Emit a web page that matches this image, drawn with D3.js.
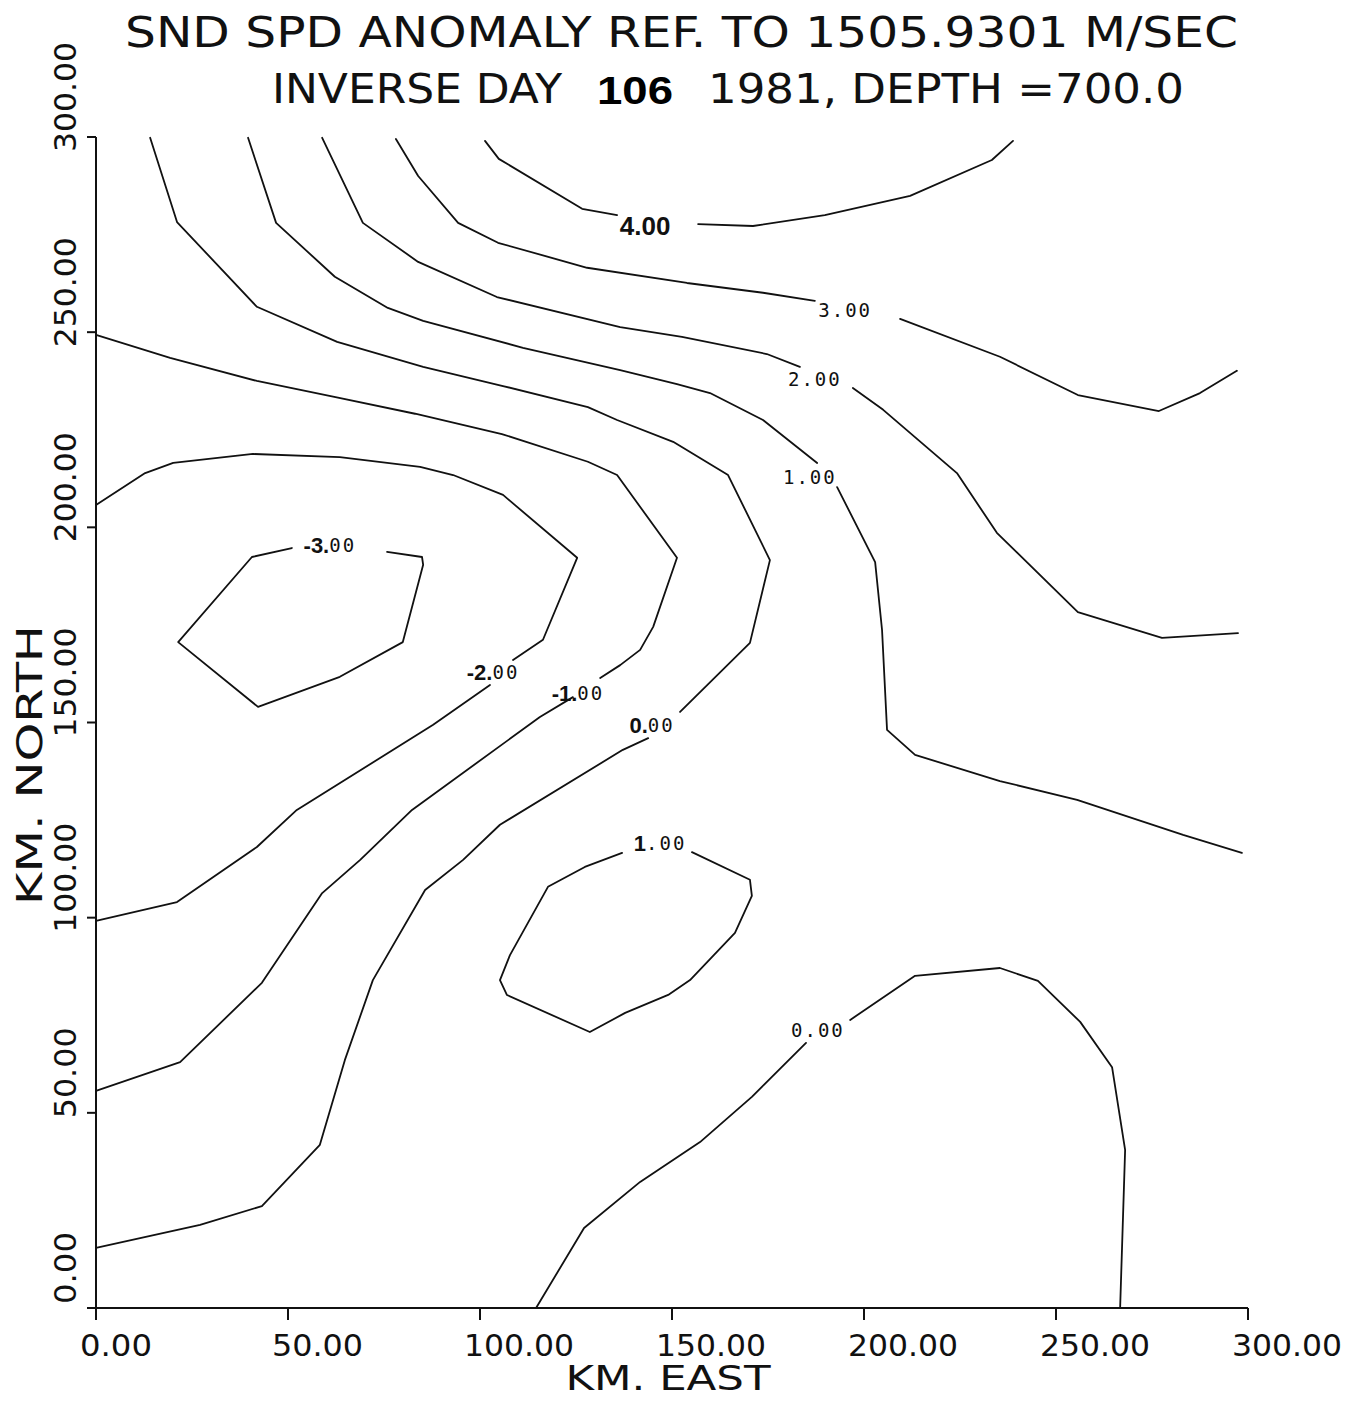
<!DOCTYPE html>
<html>
<head>
<meta charset="utf-8">
<script src="https://cdn.jsdelivr.net/npm/d3@7"></script>
<style>
  html, body { margin: 0; padding: 0; background: #fff; }
  svg { display: block; }
  .plot { font-family: "Liberation Sans Narrow", "DejaVu Sans Condensed", "DejaVu Sans", sans-serif; font-weight: 200; }
</style>
</head>
<body>
<svg id="chart" class="plot" width="1364" height="1401"></svg>
<script>
// ---------- DATA (km east, km north) ----------
const titleLine1 = "SND SPD ANOMALY REF. TO 1505.9301 M/SEC";
const titleLine2a = "INVERSE DAY";
const titleLine2b = "106";
const titleLine2c = "1981, DEPTH =700.0";
const xAxisTitle = "KM. EAST";
const yAxisTitle = "KM. NORTH";

const xTicks = [0, 50, 100, 150, 200, 250, 300];
const xTickLabels = ["0.00", "50.00", "100.00", "150.00", "200.00", "250.00", "300.00"];
const yTicks = [0, 50, 100, 150, 200, 250, 300];
const yTickLabels = ["0.00", "50.00", "100.00", "150.00", "200.00", "250.00", "300.00"];

// contour level 4.00
const c4_a = [[101.3,299.0],[104.9,294.4],[126.6,281.6],[135.7,280.0]];
const c4_b = [[156.8,277.7],[171.1,277.2],[189.8,280.0],[212.0,284.9],[233.3,294.1],[238.8,299.0]];
// contour level 3.00
const c3_a = [[78.1,299.5],[83.9,290.0],[94.3,278.0],[104.7,272.9],[127.9,266.5],[153.9,262.6],[173.7,260.1],[187.2,258.0]];
const c3_b = [[209.4,253.4],[235.4,243.7],[255.7,233.9],[276.8,229.8],[287.5,234.4],[297.1,240.1]];
// contour level 2.00
const c2_a = [[58.9,299.8],[69.5,278.0],[83.9,268.0],[104.4,259.0],[136.5,251.3],[152.6,248.8],[174.7,244.4],[183.3,241.1]];
const c2_b = [[197.1,235.7],[205.0,230.1],[224.2,213.9],[234.6,198.6],[255.7,178.3],[277.6,171.7],[297.4,172.9]];
// contour level 1.00 (upper)
const c1_a = [[39.6,299.8],[46.9,278.0],[62.2,264.2],[76.0,256.2],[85.2,252.9],[111.2,246.0],[136.5,240.3],[151.3,236.7],[159.9,234.4],[173.7,227.5],[187.8,216.5]];
const c1_b = [[193.0,210.3],[202.9,191.1],[204.7,173.7],[206.0,148.1],[213.3,141.7],[235.4,135.0],[255.5,130.2],[283.1,121.2],[298.4,116.6]];
// contour level 0.00 (upper-left)
const c0_a = [[14.1,299.8],[21.1,278.2],[41.9,256.5],[62.8,247.5],[85.2,241.1],[106.0,236.2],[128.1,230.8],[135.7,227.5],[150.3,221.9],[164.6,213.4],[175.5,191.6],[170.3,170.4],[152.1,152.7]];
const c0_b = [[143.8,146.0],[137.2,143.0],[105.2,123.8],[95.6,114.8],[85.7,107.1],[72.1,84.0],[64.8,63.5],[58.3,41.8],[43.2,26.1],[27.1,21.3],[0.0,15.4]];
// contour level -1.00
const cm1_a = [[0.0,249.3],[19.3,243.4],[41.9,237.5],[63.0,233.2],[83.1,229.1],[105.7,223.9],[128.1,216.8],[135.7,213.4],[151.3,192.2],[145.1,174.5],[141.7,168.6],[136.5,164.7],[131.3,161.4]];
const cm1_b = [[124.2,156.5],[115.6,151.4],[82.3,127.6],[68.8,114.8],[58.9,106.3],[43.2,83.3],[21.9,63.0],[0.0,55.6]];
// contour level -2.00
const cm2_a = [[0.0,205.7],[12.8,213.9],[20.1,216.5],[40.9,218.8],[63.5,218.0],[84.4,215.5],[93.0,213.4],[106.0,208.3],[125.3,192.2],[116.4,171.2],[108.6,166.0]];
const cm2_b = [[102.6,159.6],[87.8,149.4],[52.3,127.6],[41.9,118.1],[21.1,104.0],[0.0,99.2]];
// contour level -3.00 (closed, open at label)
const cm3 = [[75.8,193.7],[84.9,192.4],[85.2,190.4],[79.9,170.6],[63.5,161.7],[42.2,154.0],[21.4,170.6],[40.6,192.4],[51.0,194.7]];
// contour level 1.00 (closed loop, open at label)
const c1_loop = [[155.2,116.8],[170.3,109.7],[170.8,105.6],[166.4,96.1],[154.7,84.0],[149.0,80.2],[137.8,75.6],[128.6,70.7],[107.0,80.2],[105.2,84.0],[107.8,90.4],[117.7,107.9],[127.3,113.0],[137.0,116.6]];
// contour level 0.00 (lower-right)
const c0_low_a = [[114.6,0.0],[127.1,20.5],[141.7,32.3],[157.3,42.5],[170.8,54.1],[184.9,67.9]];
const c0_low_b = [[196.4,73.8],[213.3,85.1],[235.4,87.1],[245.3,83.8],[256.3,73.3],[264.6,61.7],[268.0,40.5],[266.7,0.0]];

const contours = [c4_a, c4_b, c3_a, c3_b, c2_a, c2_b, c1_a, c1_b, c0_a, c0_b,
                  cm1_a, cm1_b, cm2_a, cm2_b, cm3, c1_loop, c0_low_a, c0_low_b];

// contour labels
const labelTexts = ["4.00", "3.00", "2.00", "1.00", "-3.00", "-2.00", "-1.00", "0.00", "1.00", "0.00"];
const labelBoldPrefix = ["4.00", "", "", "", "-3.", "-2.", "-1.", "0.", "1", ""];
const labelX = [143.0, 195.1, 187.2, 185.9, 60.9, 103.4, 125.5, 144.8, 146.9, 188.0];
const labelY = [277.2, 255.7, 238.0, 212.9, 195.5, 162.9, 157.6, 149.4, 119.1, 71.2];

// ---------- DRAWING ----------
const svg = d3.select("#chart");
const x = d3.scaleLinear().domain([0, 300]).range([96, 1248]);
const y = d3.scaleLinear().domain([0, 300]).range([1308, 137]);
const ink = "#111";

// Title
svg.append("text")
  .attr("x", 125).attr("y", 47)
  .attr("textLength", 1113).attr("lengthAdjust", "spacingAndGlyphs")
  .attr("font-size", 42).attr("fill", ink)
  .text(titleLine1);
svg.append("text")
  .attr("x", 272).attr("y", 103)
  .attr("textLength", 290).attr("lengthAdjust", "spacingAndGlyphs")
  .attr("font-size", 40).attr("fill", ink)
  .text(titleLine2a);
svg.append("text")
  .attr("x", 597).attr("y", 104)
  .attr("textLength", 76).attr("lengthAdjust", "spacingAndGlyphs")
  .attr("font-size", 38).attr("font-weight", "bold")
  .attr("font-family", "'Liberation Sans', Arial, sans-serif").attr("fill", "#000")
  .text(titleLine2b);
svg.append("text")
  .attr("x", 708).attr("y", 103)
  .attr("textLength", 476).attr("lengthAdjust", "spacingAndGlyphs")
  .attr("font-size", 40).attr("fill", ink)
  .text(titleLine2c);

// Axes lines
const axisG = svg.append("g").attr("stroke", ink).attr("stroke-width", 2).attr("fill", "none");
axisG.append("line").attr("x1", x(0)).attr("x2", x(0)).attr("y1", y(300)).attr("y2", y(0) + 6);
axisG.append("line").attr("x1", x(0) - 4).attr("x2", x(300)).attr("y1", y(0)).attr("y2", y(0));
axisG.selectAll(".yt").data(yTicks).join("line")
  .attr("x1", x(0) - 9).attr("x2", x(0)).attr("y1", d => y(d)).attr("y2", d => y(d));
axisG.selectAll(".xt").data(xTicks).join("line")
  .attr("x1", d => x(d)).attr("x2", d => x(d)).attr("y1", y(0)).attr("y2", y(0) + 12);

// tick labels
svg.selectAll(".xl").data(xTicks).join("text")
  .attr("x", d => x(d) - 16).attr("y", y(0) + 48)
  .attr("font-size", 30).attr("fill", ink)
  .attr("textLength", (d, i) => xTickLabels[i].length * 19 - 4)
  .attr("lengthAdjust", "spacingAndGlyphs")
  .text((d, i) => xTickLabels[i]);
svg.selectAll(".yl").data(yTicks).join("text")
  .attr("transform", d => `translate(76,${y(d) - 40}) rotate(-90)`)
  .attr("text-anchor", "middle")
  .attr("font-size", 30).attr("fill", ink)
  .attr("textLength", (d, i) => yTickLabels[i].length * 19 - 4)
  .attr("lengthAdjust", "spacingAndGlyphs")
  .text((d, i) => yTickLabels[i]);

// axis titles
svg.append("text")
  .attr("x", 668).attr("y", 1390).attr("text-anchor", "middle")
  .attr("font-size", 34).attr("fill", ink)
  .attr("textLength", 205).attr("lengthAdjust", "spacingAndGlyphs")
  .text(xAxisTitle);
svg.append("text")
  .attr("transform", "translate(42,765) rotate(-90)").attr("text-anchor", "middle")
  .attr("font-size", 36).attr("fill", ink)
  .attr("textLength", 280).attr("lengthAdjust", "spacingAndGlyphs")
  .text(yAxisTitle);

// contours
const line = d3.line().x(d => x(d[0])).y(d => y(d[1]));
svg.append("g").selectAll("path").data(contours).join("path")
  .attr("d", line)
  .attr("fill", "none").attr("stroke", ink).attr("stroke-width", 1.8)
  .attr("stroke-linejoin", "round").attr("stroke-linecap", "round");

// contour labels
const lg = svg.append("g");
labelTexts.forEach((txt, i) => {
  const bold = labelBoldPrefix[i];
  const rest = txt.slice(bold.length);
  const t = lg.append("text")
    .attr("x", x(labelX[i])).attr("y", y(labelY[i]))
    .attr("text-anchor", "middle").attr("dominant-baseline", "central")
    .attr("fill", ink);
  if (bold.length) {
    t.append("tspan").attr("font-family", "'Liberation Sans', Arial, sans-serif")
      .attr("font-weight", "bold").attr("font-size", bold === txt ? 26 : 22)
      .text(bold);
  }
  if (rest.length) {
    t.append("tspan").attr("font-size", 19).attr("letter-spacing", 2)
      .attr("font-family", "'DejaVu Sans Mono', monospace").attr("font-weight", 400)
      .text(rest);
  }
});
</script>
</body>
</html>
